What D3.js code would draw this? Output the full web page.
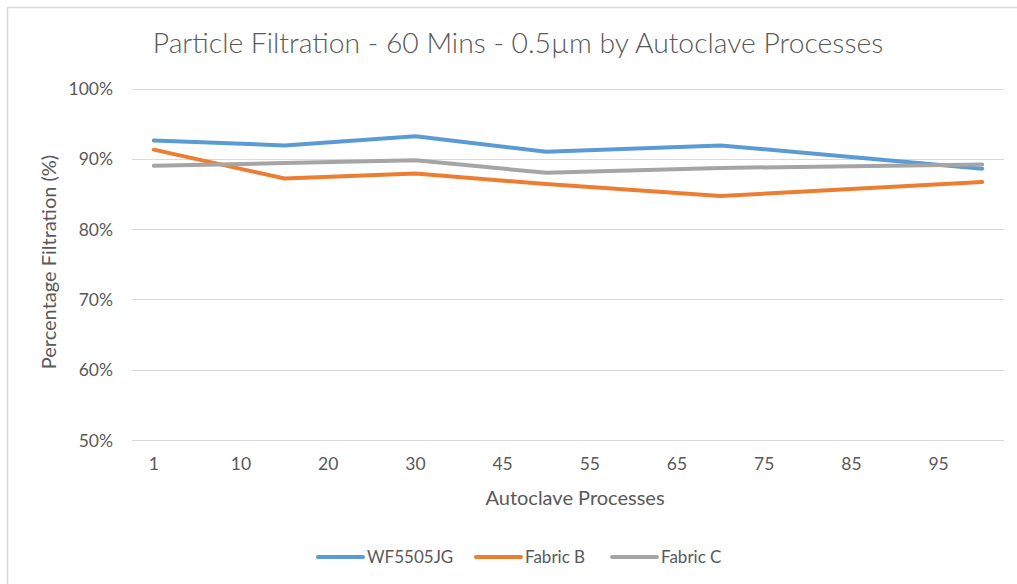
<!DOCTYPE html>
<html>
<head>
<meta charset="utf-8">
<script src="https://cdn.jsdelivr.net/npm/d3@7"></script>
<style>
    body { margin: 0; background: #fff; }
    svg text { font-family: Lato, "Open Sans", sans-serif; fill: #595959; }
</style>
</head>
<body>
<svg id="chart" width="1017" height="584"></svg>
<script>
// category axis: only every other category carries a label
var categories = ['1', '5', '10', '15', '20', '25', '30', '40', '45', '50', '55', '60', '65', '70', '75', '80', '85', '90', '95', '100'];
var tickLabels = ['1', '10', '20', '30', '45', '55', '65', '75', '85', '95'];
var measured = ['1', '15', '30', '50', '70', '100'];
var wf5505jg = [92.6, 91.9, 93.2, 91.0, 91.9, 88.6];
var fabricB = [91.3, 87.2, 87.9, 86.4, 84.7, 86.7];
var fabricC = [89.0, 89.4, 89.8, 88.0, 88.7, 89.2];
var yTicks = [50, 60, 70, 80, 90, 100];

var series = [
    { name: 'WF5505JG', values: wf5505jg, color: '#5B9BD5' },
    { name: 'Fabric B', values: fabricB, color: '#ED7D31' },
    { name: 'Fabric C', values: fabricC, color: '#A5A5A5' }
];

var svg = d3.select('#chart');

// chart frame
svg.append('path')
    .attr('d', 'M7.5,584 V7.5 H1017')
    .attr('fill', 'none')
    .attr('stroke', '#D9D9D9')
    .attr('stroke-width', 1.5);

var x = d3.scaleBand().domain(categories).range([132, 1004]);
var y = d3.scaleLinear().domain([50, 100]).range([440, 88.5]);

// gridlines
svg.append('g').selectAll('line').data(yTicks).enter().append('line')
    .attr('x1', 132).attr('x2', 1004)
    .attr('y1', d => Math.round(y(d)) + 0.5).attr('y2', d => Math.round(y(d)) + 0.5)
    .attr('stroke', '#D9D9D9').attr('stroke-width', 1);

// y axis labels
var yAxis = svg.append('g').attr('transform', 'translate(113,0)')
    .call(d3.axisLeft(y).tickValues(yTicks).tickSize(0).tickPadding(0).tickFormat(d => d + '%'));
yAxis.select('.domain').remove();
yAxis.selectAll('text').style('font-size', '17.5px').attr('dy', '0.35em').attr('fill', null);

// x axis labels
var xAxis = svg.append('g').attr('transform', 'translate(0,458)')
    .call(d3.axisBottom(x).tickValues(tickLabels).tickSize(0).tickPadding(0));
xAxis.select('.domain').remove();
xAxis.selectAll('text').style('font-size', '17.5px').attr('dy', '0.7em').attr('fill', null);

// lines
var line = d3.line()
    .x((d, i) => x(measured[i]) + x.bandwidth() / 2)
    .y(d => y(d));

svg.append('g').selectAll('path').data(series).enter().append('path')
    .attr('d', d => line(d.values))
    .attr('fill', 'none')
    .attr('stroke', d => d.color)
    .attr('stroke-width', 4)
    .attr('stroke-linejoin', 'round')
    .attr('stroke-linecap', 'round');

// titles
svg.append('text')
    .attr('x', 518).attr('y', 53)
    .attr('text-anchor', 'middle')
    .style('font-size', '28.3px')
    .style('font-weight', 300)
    .text('Particle Filtration - 60 Mins - 0.5\u00B5m by Autoclave Processes');

svg.append('text')
    .attr('x', 575).attr('y', 505)
    .attr('text-anchor', 'middle')
    .style('font-size', '20px')
    .text('Autoclave Processes');

svg.append('text')
    .attr('transform', 'translate(56,262) rotate(-90)')
    .attr('text-anchor', 'middle')
    .style('font-size', '20px')
    .text('Percentage Filtration (%)');

// legend
var legendX = [318, 476, 612];
var legend = svg.append('g').selectAll('g').data(series).enter().append('g')
    .attr('transform', (d, i) => 'translate(' + legendX[i] + ',557)');
legend.append('line')
    .attr('x1', 0).attr('x2', 45)
    .attr('stroke', d => d.color)
    .attr('stroke-width', 4)
    .attr('stroke-linecap', 'round');
legend.append('text')
    .attr('x', 49).attr('y', 6)
    .style('font-size', '17px')
    .text(d => d.name);
</script>
</body>
</html>
